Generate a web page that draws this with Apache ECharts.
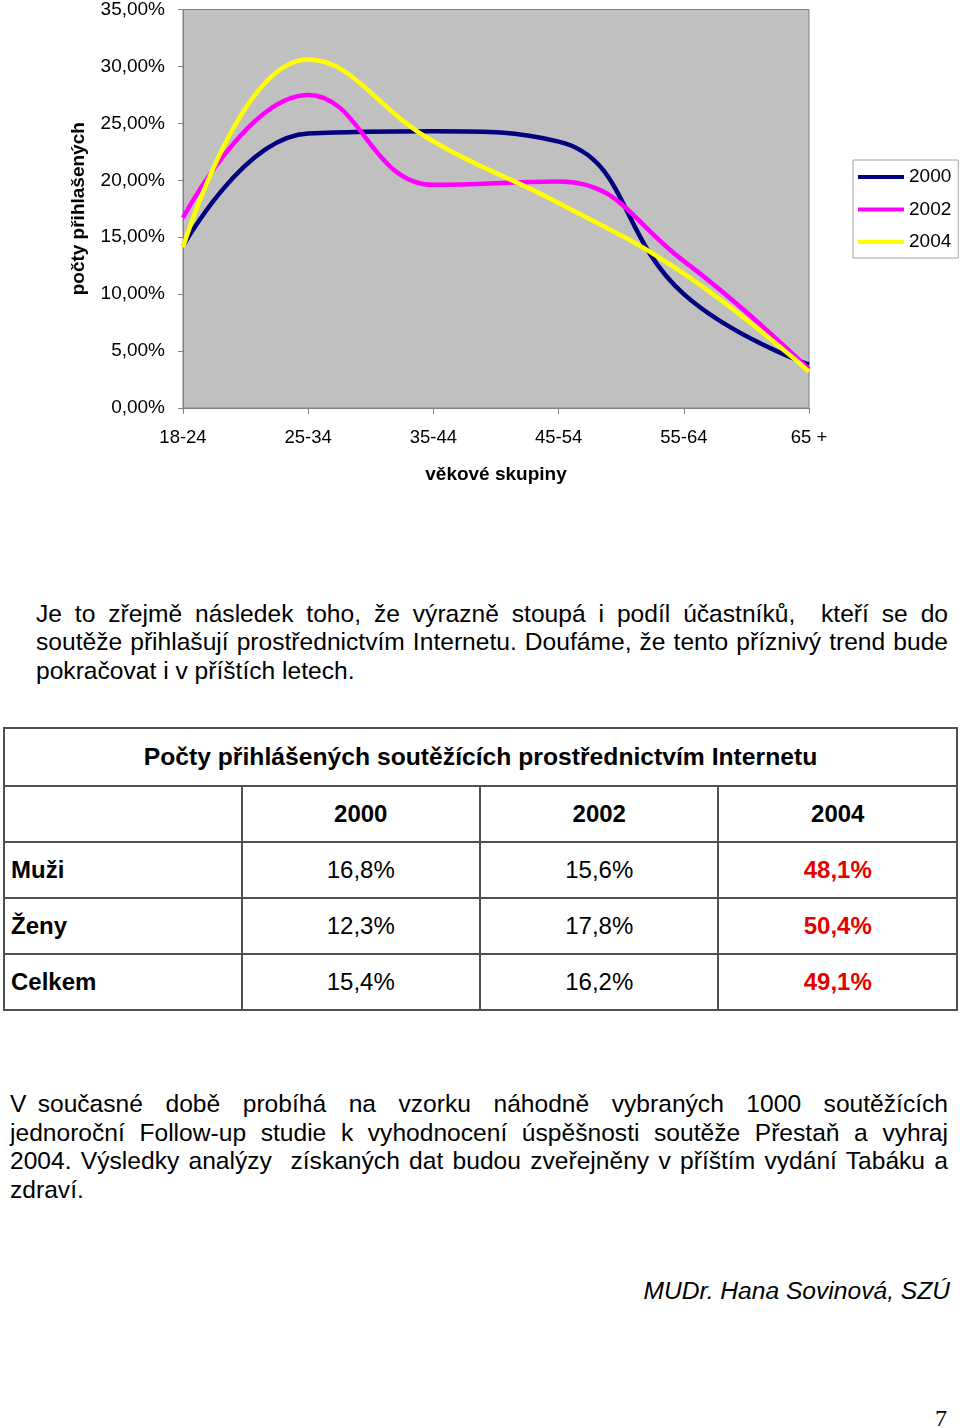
<!DOCTYPE html>
<html>
<head>
<meta charset="utf-8">
<script src="https://cdn.jsdelivr.net/npm/echarts@6/dist/echarts.min.js"></script>
<style>
  html, body { margin:0; padding:0; background:#fff; }
  body { width:960px; height:1428px; position:relative; overflow:hidden; font-family:"Liberation Sans", Arial, sans-serif; color:#000; }
  #chart { position:absolute; left:0; top:0; width:960px; height:500px; }
  .line { position:absolute; font-size:24.6px; line-height:28px; white-space:nowrap; }
  .just { text-align:justify; text-align-last:justify; white-space:normal; }
  table { position:absolute; left:3px; top:727px; width:955px; border-collapse:collapse; font-size:24px; }
  td { border:2px solid #505050; padding:0; height:54px; text-align:center; vertical-align:middle; }
  td.lab { text-align:left; padding-left:6px; font-weight:bold; }
  th { border:2px solid #505050; font-weight:bold; height:54px; font-size:24.7px; }
  .red { color:#e60000; font-weight:bold; }
</style>
</head>
<body>
<div id="chart"></div>

<div class="line just" style="left:36px;width:912px;top:600px;">Je to zřejmě následek toho, že výrazně stoupá i podíl účastníků,&nbsp; kteří se do</div>
<div class="line just" style="left:36px;width:912px;top:628px;">soutěže přihlašují prostřednictvím Internetu. Doufáme, že tento příznivý trend bude</div>
<div class="line" style="left:36px;top:657px;">pokračovat i v příštích letech.</div>

<table id="tbl"></table>

<div class="line just" style="left:10px;width:938px;top:1090px;">V současné&nbsp; době&nbsp; probíhá&nbsp; na&nbsp; vzorku&nbsp; náhodně&nbsp; vybraných&nbsp; 1000&nbsp; soutěžících</div>
<div class="line just" style="left:10px;width:938px;top:1119px;">jednoroční Follow-up studie k vyhodnocení úspěšnosti soutěže Přestaň a vyhraj</div>
<div class="line just" style="left:10px;width:938px;top:1147px;">2004. Výsledky analýzy&nbsp; získaných dat budou zveřejněny v příštím vydání Tabáku a</div>
<div class="line" style="left:10px;top:1176px;">zdraví.</div>

<div class="line" style="right:10px;top:1277px;font-style:italic;">MUDr. Hana Sovinová, SZÚ</div>
<div class="line" style="left:935px;top:1404px;font-family:'Liberation Serif','DejaVu Serif',serif;font-size:24px;">7</div>

<script>
// ---- chart data ----
const categories = ['18-24', '25-34', '35-44', '45-54', '55-64', '65 +'];
const s2000 = [14.2, 24.1, 24.3, 23.4, 10.0, 3.8];
const s2002 = [16.7, 27.5, 19.6, 19.9, 12.9, 3.4];
const s2004 = [14.1, 30.6, 23.4, 18.0, 11.8, 3.2];
const seriesNames = ['2000', '2002', '2004'];
const yTicks = [0, 5, 10, 15, 20, 25, 30, 35];

// ---- table data ----
const tableTitle = 'Počty přihlášených soutěžících prostřednictvím Internetu';
const tableYears = ['2000', '2002', '2004'];
const tableRows = ['Muži', 'Ženy', 'Celkem'];
const tMuzi = ['16,8%', '15,6%', '48,1%'];
const tZeny = ['12,3%', '17,8%', '50,4%'];
const tCelkem = ['15,4%', '16,2%', '49,1%'];

// build table
(function () {
  const tbl = document.getElementById('tbl');
  let html = '<colgroup><col style="width:238px"><col style="width:239px"><col style="width:239px"><col style="width:239px"></colgroup>';
  html += '<tr><th colspan="4" style="height:54px">' + tableTitle + '</th></tr>';
  html += '<tr><td></td>' + tableYears.map(y => '<td style="font-weight:bold">' + y + '</td>').join('') + '</tr>';
  const vals = [tMuzi, tZeny, tCelkem];
  tableRows.forEach((r, i) => {
    html += '<tr><td class="lab">' + r + '</td>' + vals[i].map((v, j) => '<td' + (j === 2 ? ' class="red"' : '') + '>' + v + '</td>').join('') + '</tr>';
  });
  tbl.innerHTML = html;
})();

const chart = echarts.init(document.getElementById('chart'), null, { renderer: 'canvas' });
const fmt = v => v.toFixed(2).replace('.', ',') + '%';
const FONT = '"Liberation Sans", Arial, sans-serif';
const colors = ['#000080', '#FF00FF', '#FFFF00'];
const data = [s2000, s2002, s2004];

chart.setOption({
  animation: false,
  grid: {
    left: 183, top: 9, width: 626, height: 399,
    show: true, backgroundColor: '#C0C0C0', borderColor: '#808080', borderWidth: 1
  },
  legend: {
    orient: 'vertical', left: 853, top: 160,
    backgroundColor: '#fff', borderColor: '#a0a0a0', borderWidth: 1,
    padding: [7, 7, 6, 5],
    itemWidth: 46, itemHeight: 4, itemGap: 12.5, icon: 'rect',
    textStyle: { fontFamily: FONT, fontSize: 19, color: '#000', lineHeight: 20 },
    data: seriesNames
  },
  xAxis: {
    type: 'category', data: categories, boundaryGap: false,
    name: 'věkové skupiny', nameLocation: 'middle', nameGap: 57,
    nameTextStyle: { fontFamily: FONT, fontSize: 19, fontWeight: 'bold', color: '#000' },
    axisLine: { lineStyle: { color: '#808080', width: 1 } },
    axisTick: { show: true, length: 6, lineStyle: { color: '#808080' }, alignWithLabel: true },
    axisLabel: { fontFamily: FONT, fontSize: 18.5, color: '#000', margin: 20 },
    splitLine: { show: false }
  },
  yAxis: {
    type: 'value', min: yTicks[0], max: yTicks[yTicks.length - 1], interval: 5,
    name: 'počty přihlašených', nameLocation: 'middle', nameGap: 95, nameRotate: 90,
    nameTextStyle: { fontFamily: FONT, fontSize: 19, fontWeight: 'bold', color: '#000' },
    axisLine: { show: true, lineStyle: { color: '#808080', width: 1 } },
    axisTick: { show: true, length: 5, lineStyle: { color: '#808080' } },
    axisLabel: { fontFamily: FONT, fontSize: 19, color: '#000', margin: 18, formatter: fmt },
    splitLine: { show: false }
  },
  series: seriesNames.map((n, i) => ({
    name: n, type: 'line', data: data[i], smooth: 0.45,
    showSymbol: false, symbol: 'none',
    lineStyle: { color: colors[i], width: 4.5 },
    itemStyle: { color: colors[i] }
  }))
});
</script>
</body>
</html>
